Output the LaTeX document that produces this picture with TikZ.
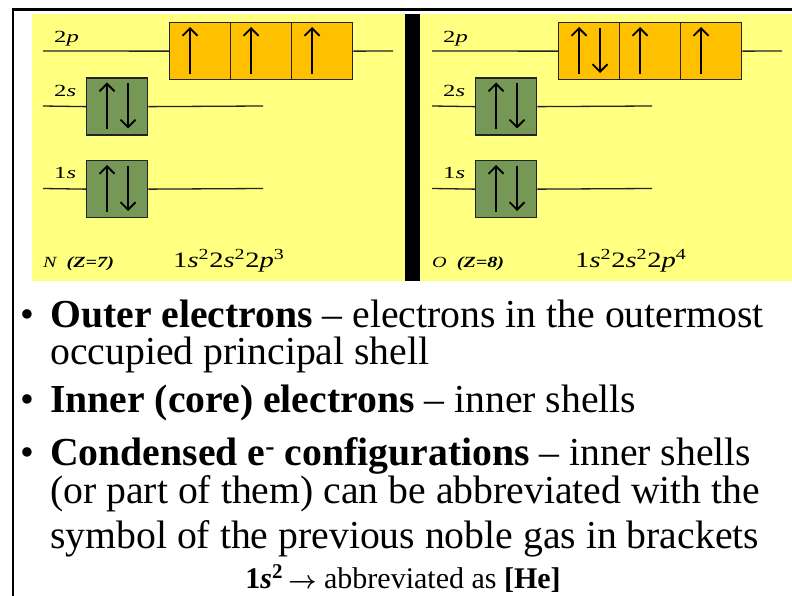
\documentclass[tikz,border=0pt]{standalone}
\usepackage{amsmath}
\usepackage{fontspec}
\setmainfont{Liberation Serif}
\usepackage{graphicx}
\usetikzlibrary{arrows.meta,calc}
\definecolor{paneyellow}{RGB}{255,255,128}
\definecolor{porange}{RGB}{255,192,0}
\definecolor{sgreen}{RGB}{118,152,86}
\definecolor{lineink}{RGB}{35,35,35}
\newcommand{\wideA}[1]{\scalebox{1.3}[1]{#1}}
\newcommand{\wideB}[1]{\scalebox{1.45}[1]{#1}}
\newcommand{\orbpanel}[3]{%
\begin{scope}[xshift=#2pt]
  \node[orbbox,fill=porange] (#1p1) at (169,22) {};
  \node[orbbox,fill=porange] (#1p2) at (230,22) {};
  \node[orbbox,fill=porange] (#1p3) at (291,22) {};
  \node[orbbox,fill=sgreen] (#1s2) at (86,77.5) {};
  \node[orbbox,fill=sgreen] (#1s1) at (86,160) {};
  \coordinate (#1a) at (43,51);  \coordinate (#1b) at (393,51);
  \coordinate (#1c) at (43,106); \coordinate (#1d) at (263,106);
  \coordinate (#1e) at (43,188.5); \coordinate (#1f) at (263,188.5);
  \draw[level] (#1a) -- (#1p1.west);
  \draw[level] (#1p3.east) -- (#1b);
  \draw[level] (#1c) -- (#1s2.west);
  \draw[level] (#1s2.east) -- (#1d);
  \draw[level] (#1e) -- (#1s1.west);
  \draw[level] (#1s1.east) -- (#1f);
  \pic at (#1s2.north west) {pairspin};
  \pic at (#1s1.north west) {pairspin};
  \pic at (#1p1.north west) {#3};
  \pic at (#1p2.north west) {upspin};
  \pic at (#1p3.north west) {upspin};
  \node[lab] (#1l2p) at (54,43) {\wideB{2\textit{p}}};
  \node[lab] (#1l2s) at (54,97) {\wideB{2\textit{s}}};
  \node[lab] (#1l1s) at (54,179) {\wideB{1\textit{s}}};
\end{scope}}
\begin{document}
\begin{tikzpicture}[x=1pt,y=-1pt,
  orbbox/.style={draw=lineink,line width=1.3pt,minimum width=61pt,minimum height=57pt,inner sep=0pt,anchor=north west},
  level/.style={draw=lineink,line width=1.3pt},
  spin/.style={line width=1.6pt,-{Straight Barb[length=7.5pt,width=15pt,line width=1.8pt]}},
  upspin/.pic={\draw[spin] (21,52) -- (21,5);},
  pairspin/.pic={\draw[spin] (21,52) -- (21,5); \draw[spin] (42,6) -- (42,51);},
  lab/.style={anchor=base west,inner sep=0pt,font=\fontsize{17}{17}\selectfont},
  cfg/.style={anchor=base west,inner sep=0pt,font=\fontsize{22}{22}\selectfont},
  elem/.style={anchor=base west,inner sep=0pt,font=\fontsize{15.5}{15.5}\selectfont\itshape},
  bul/.style={anchor=base west,inner sep=0pt,font=\fontsize{39.5}{39.5}\selectfont},
  body/.style={anchor=base west,inner sep=0pt,font=\fontsize{39.7}{39.7}\selectfont}
]
\useasboundingbox (0,0) rectangle (792,596);
\fill[white] (0,0) rectangle (792,596);
\fill[paneyellow] (32,14) rectangle (792,281);
\fill[black] (405,14) rectangle (420,281);
\draw[line width=2.2pt] (13,596) -- (13,9.5) -- (792,9.5);

\orbpanel{N}{0}{upspin}
\orbpanel{O}{389}{pairspin}

\node[elem] (Nname) at (43,267) {\wideA{N\ \ \textbf{(Z=7)}}};
\node[cfg] (Ncfg) at (173,267) {\wideA{1\textit{s}\textsuperscript{2}2\textit{s}\textsuperscript{2}2\textit{p}\textsuperscript{3}}};
\node[elem] (Oname) at (432,267) {\wideA{O\ \ \textbf{(Z=8)}}};
\node[cfg] (Ocfg) at (575,267) {\wideA{1\textit{s}\textsuperscript{2}2\textit{s}\textsuperscript{2}2\textit{p}\textsuperscript{4}}};

\node[bul] (b1) at (20,327) {•};
\node[body] (t1) at (50,327) {\textbf{Outer electrons} – electrons in the outermost};
\node[body] (t2) at (50,364) {occupied principal shell};
\node[bul] (b2) at (20,412) {•};
\node[body] (t3) at (50,412) {\textbf{Inner (core) electrons} – inner shells};
\node[bul] (b3) at (20,465) {•};
\node[body] (t4) at (50,465) {\textbf{Condensed e\textsuperscript{-} configurations} – inner shells};
\node[body] (t5) at (50,503) {(or part of them) can be abbreviated with the};
\node[body] (t6) at (50,548) {symbol of the previous noble gas in brackets};
\node[anchor=base,inner sep=0pt,font=\fontsize{30}{30}\selectfont] (t7) at (403,588)
  {\textbf{1\textit{s}\textsuperscript{2}}\,$\boldsymbol{\rightarrow}$ abbreviated as \textbf{[He]}};
\end{tikzpicture}
\end{document}
